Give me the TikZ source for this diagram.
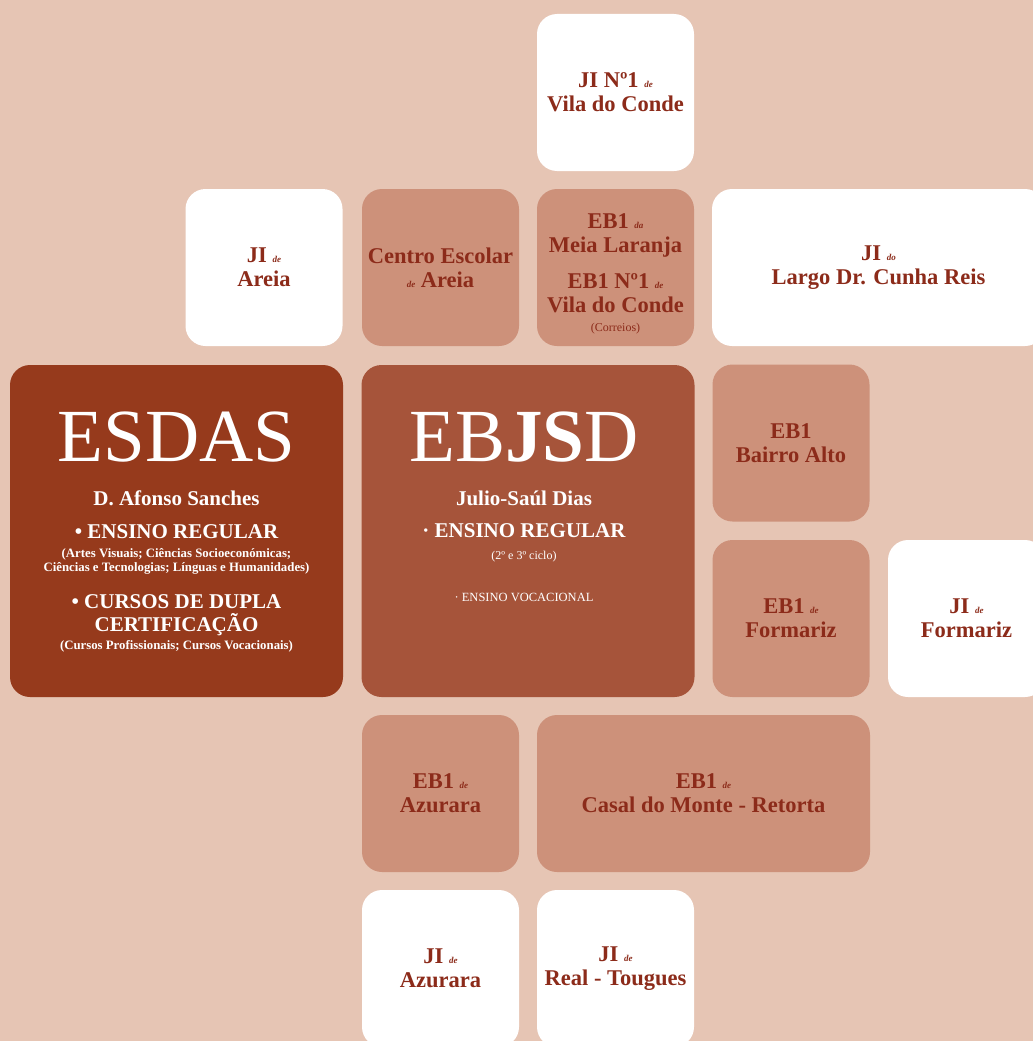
\documentclass[tikz,border=0pt]{standalone}
\usepackage{fontspec}
\setmainfont{Liberation Serif}
\definecolor{bgcol}{HTML}{E6C5B4}
\definecolor{lightcol}{HTML}{CD917A}
\definecolor{esdascol}{HTML}{963A1C}
\definecolor{ebjsdcol}{HTML}{A6543A}
\definecolor{txtcol}{HTML}{8C2B1A}
\newcommand{\prep}[1]{{\fontsize{9}{9}\selectfont\itshape #1}}
\tikzset{
  cell/.style={rounded corners=20pt, minimum width=157pt, minimum height=157pt,
    inner sep=0pt, align=center, text=txtcol,
    font=\fontsize{22.5}{24}\selectfont\bfseries},
  whitecell/.style={cell, fill=white},
  tancell/.style={cell, fill=lightcol},
  widecell/.style={minimum width=333pt},
  bigcell/.style={cell, minimum width=333pt, minimum height=332pt},
  bigname/.style={text=white, font=\fontsize{75}{75}\selectfont},
  bigline/.style={text=white, font=\fontsize{21}{23}\selectfont\bfseries},
  smallline/.style={text=white, font=\fontsize{12.8}{14}\selectfont\bfseries}
}
\begin{document}
\begin{tikzpicture}[x=1pt, y=-1pt]
  \useasboundingbox (0,0) rectangle (1033,1041);
  \clip (0,0) rectangle (1033,1041);
  \fill[bgcol] (0,0) rectangle (1033,1041);

  % first two rows
  \node[whitecell] (jinum) at (615.5,92.5) {JI Nº1 \prep{de}\\Vila do Conde};
  \node[whitecell] (jiareia) at (264,267.5) {JI \prep{de}\\Areia};
  \node[tancell] (ceareia) at (440.5,267.5) {Centro Escolar\\\prep{de} Areia};
  \node[tancell] (ebmeia) at (615.5,267.5) {};
  \node[align=center, text=txtcol, font=\fontsize{22.5}{24}\selectfont\bfseries] (ebmeiatxt) at (615.5,274)
    {EB1 \prep{da}\\Meia Laranja\\[12pt]EB1 Nº1 \prep{de}\\Vila do Conde\\[-5pt]{\fontsize{12}{12}\selectfont\mdseries (Correios)}};
  \node[whitecell, widecell] (jilargo) at (878.5,267.5) {JI \prep{do}\\Largo Dr. Cunha Reis};

  % the two schools
  \node[bigcell, fill=esdascol] (esdas) at (176.5,531) {};
  \node[bigcell, fill=ebjsdcol] (ebjsd) at (528,531) {};

  \node[bigname] (esdasname) at (176.5,437) {ESDAS};
  \node[bigline] (esdasfull) at (176.5,498) {D. Afonso Sanches};
  \node[bigline] (esdasreg) at (176.5,532) {• ENSINO REGULAR};
  \node[smallline, align=center] (esdasregtxt) at (176.5,561)
    {(Artes Visuais; Ciências Socioeconómicas;\\Ciências e Tecnologias; Línguas e Humanidades)};
  \node[bigline, align=center] (esdascurs) at (176.5,615) {• CURSOS DE DUPLA\\CERTIFICAÇÃO};
  \node[smallline] (esdascurstxt) at (176.5,646) {(Cursos Profissionais; Cursos Vocacionais)};

  \node[bigname] (ebjsdname) at (524,437) {EB\textbf{JS}D};
  \node[bigline] (ebjsdfull) at (524,498) {Julio-Saúl Dias};
  \node[bigline] (ebjsdreg) at (524,531) {· ENSINO REGULAR};
  \node[smallline, font=\fontsize{12}{12}\selectfont] (ebjsdcic) at (524,557) {(2º e 3º ciclo)};
  \node[smallline, font=\fontsize{12.5}{12}\selectfont] (ebjsdvoc) at (524,597) {· ENSINO VOCACIONAL};

  % right column
  \node[tancell] (ebbairro) at (791,443) {EB1\\Bairro Alto};
  \node[tancell] (ebformariz) at (791,618.5) {EB1 \prep{de}\\Formariz};
  \node[whitecell] (jiformariz) at (966.5,618.5) {JI \prep{de}\\Formariz};

  % bottom rows
  \node[tancell] (ebazurara) at (440.5,793.5) {EB1 \prep{de}\\Azurara};
  \node[tancell, widecell] (ebcasal) at (703.5,793.5) {EB1 \prep{de}\\Casal do Monte - Retorta};
  \node[whitecell] (jiazurara) at (440.5,968.5) {JI \prep{de}\\Azurara};
  \node[whitecell] (jireal) at (615.5,968.5) {JI \prep{de}\\Real - Tougues};
\end{tikzpicture}
\end{document}
